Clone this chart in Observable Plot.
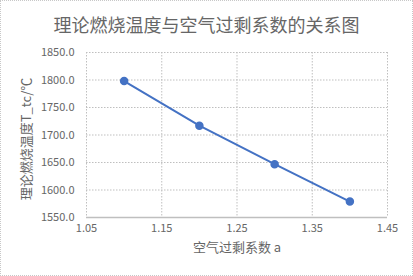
<!DOCTYPE html>
<html><head><meta charset="utf-8">
<script src="https://cdn.jsdelivr.net/npm/d3@7"></script>
<script src="https://cdn.jsdelivr.net/npm/@observablehq/plot@0.6"></script>
<style>
body{margin:0;background:#fff;}
#wrap{position:relative;width:413px;height:276px;font-family:"Noto Sans CJK SC","Noto Sans",sans-serif;}
#title{position:absolute;left:0;right:0;top:11px;text-align:center;font-size:18px;color:#666;line-height:26px;}
#border{position:absolute;left:0;top:0;width:411px;height:274px;border:1px dotted #c8c8c8;pointer-events:none}
</style></head>
<body>
<div id="wrap"><div id="title">理论燃烧温度与空气过剩系数的关系图</div><div id="border"></div></div>
<script>
const excess = [1.1, 1.2, 1.3, 1.4];
const temps = [1798, 1717, 1647, 1579];
const xTicks = [1.05, 1.15, 1.25, 1.35, 1.45];
const yTicks = [1550, 1600, 1650, 1700, 1750, 1800, 1850];
const xLabel = "空气过剩系数 a";
const yLabel = "理论燃烧温度T_tc/℃";
const data = excess.map((a, i) => ({a, t: temps[i]}));
const font = '"Noto Sans CJK SC","Noto Sans",sans-serif';
const chart = Plot.plot({
  width: 413, height: 276,
  marginTop: 52, marginBottom: 59, marginLeft: 86, marginRight: 26,
  style: {fontFamily: font, fontSize: "11px", color: "#666", background: "transparent", overflow: "visible"},
  x: {domain: [1.05, 1.45], label: null},
  y: {domain: [1550, 1850], label: null},
  marks: [
    Plot.gridX(xTicks, {stroke: "#bfbfbf", strokeOpacity: 1, strokeDasharray: "1.5,1.5"}),
    Plot.gridY(yTicks.slice(1), {stroke: "#bfbfbf", strokeOpacity: 1, strokeDasharray: "1.5,1.5"}),
    Plot.ruleY([1550], {stroke: "#bfbfbf", strokeWidth: 1.5}),
    Plot.axisX(xTicks, {tickSize: 0, tickPadding: 7, tickFormat: d3.format(".2f"), fill: "#666", label: null}),
    Plot.axisY(yTicks, {tickSize: 0, tickPadding: 12, tickFormat: d3.format(".1f"), fill: "#666", label: null}),
    Plot.line(data, {x: "a", y: "t", stroke: "#4472C4", strokeWidth: 2}),
    Plot.dot(data, {x: "a", y: "t", r: 3.5, fill: "#4472C4", stroke: "#4472C4"}),
    Plot.text([yLabel], {frameAnchor: "left", textAnchor: "middle", rotate: -90, dx: -60, dy: 4, fontSize: 13, fill: "#666"}),
    Plot.text([xLabel], {frameAnchor: "bottom", dy: 34, fontSize: 13, fill: "#666"})
  ]
});
document.getElementById("wrap").prepend(chart);
</script>
</body></html>
